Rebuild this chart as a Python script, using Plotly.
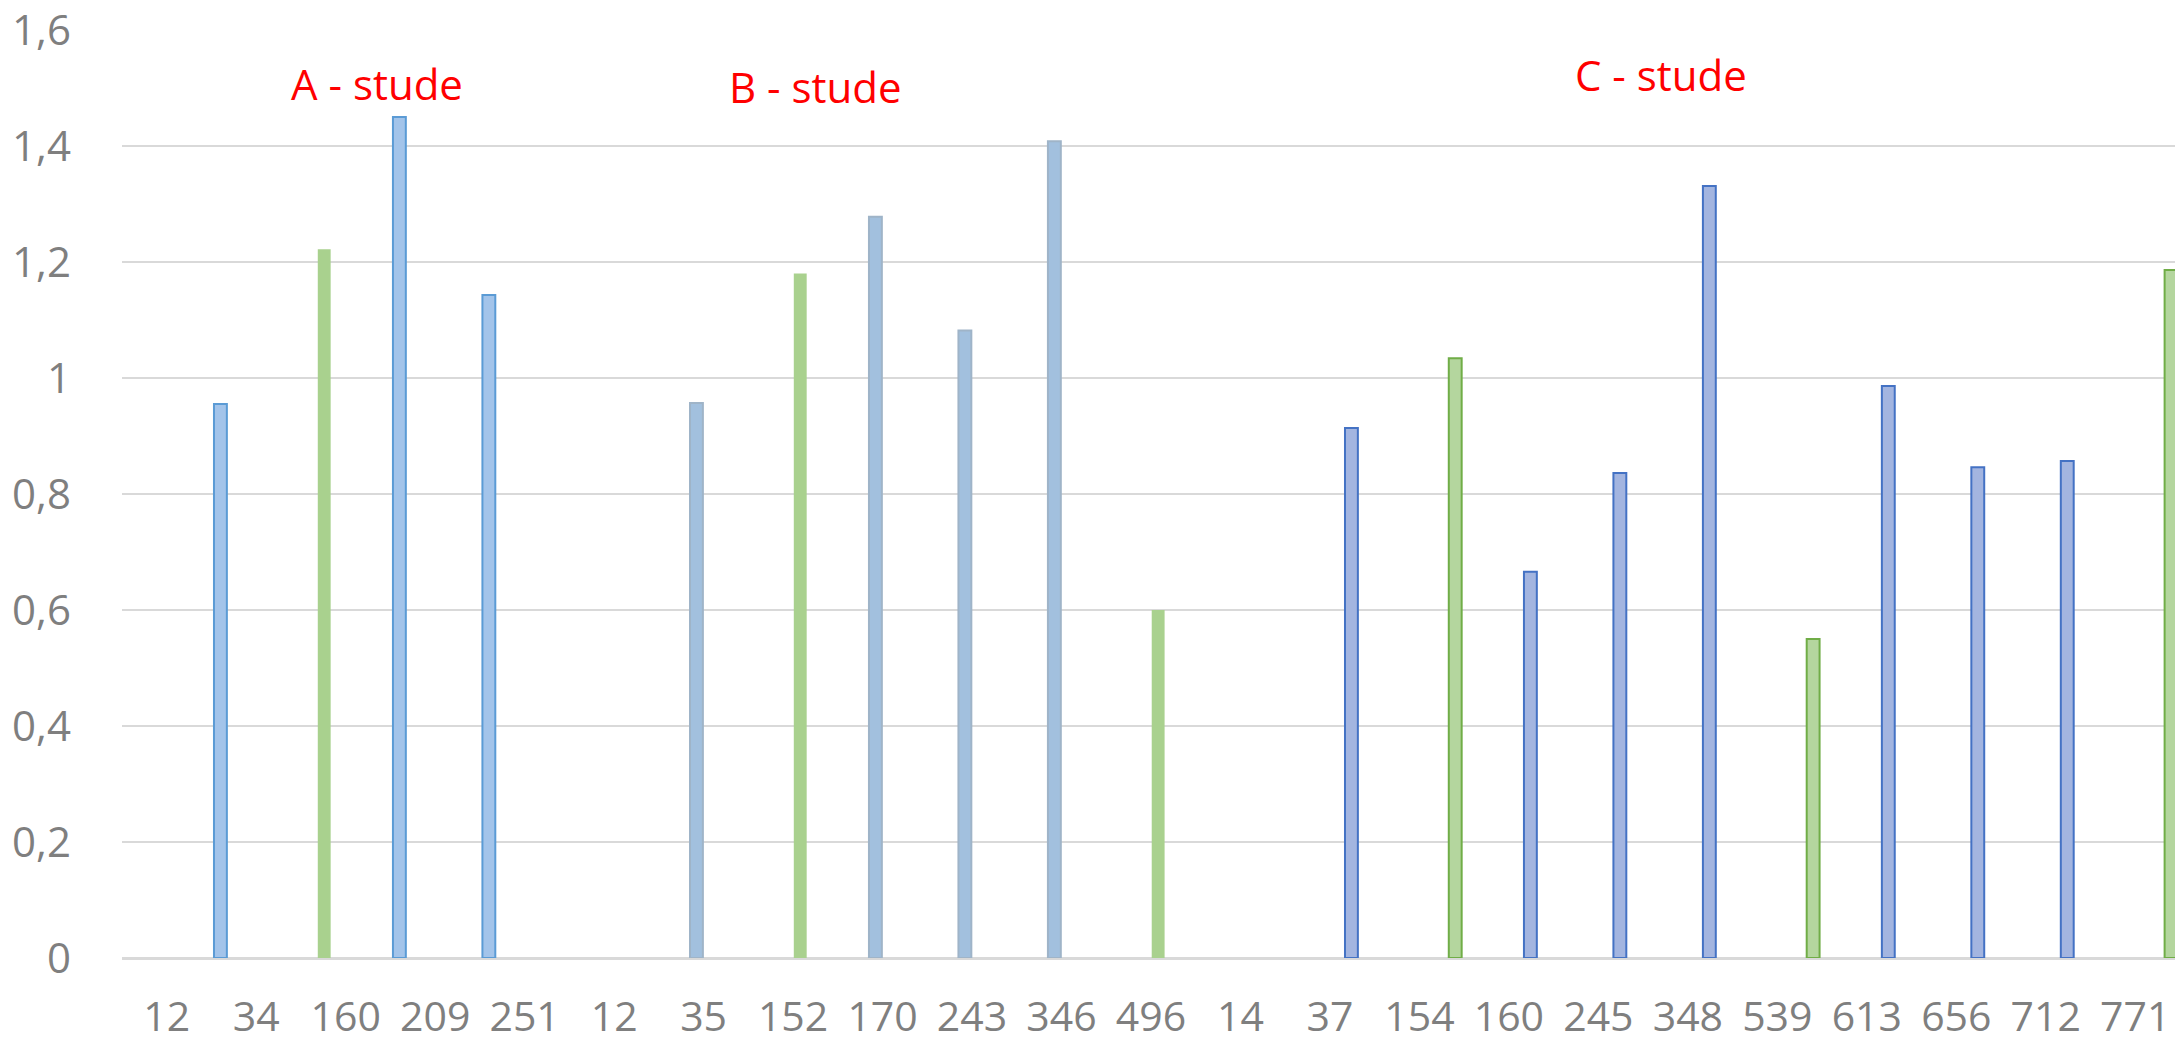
import plotly.graph_objects as go

# Category labels (x axis)
categories = ["12", "34", "160", "209", "251", "12", "35", "152", "170", "243", "346", "496",
              "14", "37", "154", "160", "245", "348", "539", "613", "656", "712", "771"]

N = None
# Six clustered series (values per category, None = no bar)
a_blue  = [N, 0.955, N, 1.450, 1.143, N, N, N, N, N, N, N, N, N, N, N, N, N, N, N, N, N, N]
a_green = [N, N, 1.222, N, N, N, N, N, N, N, N, N, N, N, N, N, N, N, N, N, N, N, N]
b_blue  = [N, N, N, N, N, N, 0.957, N, 1.278, 1.082, 1.408, N, N, N, N, N, N, N, N, N, N, N, N]
b_green = [N, N, N, N, N, N, N, 1.180, N, N, N, 0.600, N, N, N, N, N, N, N, N, N, N, N]
c_blue  = [N, N, N, N, N, N, N, N, N, N, N, N, N, 0.914, N, 0.666, 0.836, 1.331, N, 0.986, 0.846, 0.857, N]
c_green = [N, N, N, N, N, N, N, N, N, N, N, N, N, N, 1.034, N, N, N, 0.550, N, N, N, 1.186]

y_ticks = [0, 0.2, 0.4, 0.6, 0.8, 1.0, 1.2, 1.4, 1.6]
y_tick_text = ["0", "0,2", "0,4", "0,6", "0,8", "1", "1,2", "1,4", "1,6"]

group_labels = ["A - stude", "B - stude", "C - stude"]

xs = list(range(len(categories)))

series = [
    (a_blue,  "#a3c4ea", "#5b9bd5", 2),
    (a_green, "#a9d18e", "#a9d18e", 0),
    (b_blue,  "#a2c0de", "#9fb4c8", 2),
    (b_green, "#a9d18e", "#a9d18e", 0),
    (c_blue,  "#a3b5e0", "#4472c4", 2),
    (c_green, "#b4d69e", "#70ad47", 2),
]

fig = go.Figure()
for vals, fill, line, lw in series:
    fig.add_trace(go.Bar(x=xs, y=vals, marker=dict(color=fill, line=dict(color=line, width=lw)),
                         showlegend=False))

font_family = "Open Sans, Liberation Sans, sans-serif"

fig.update_layout(
    width=2175, height=1032,
    margin=dict(l=114, r=3, t=22, b=82, autoexpand=False),
    paper_bgcolor="white", plot_bgcolor="white",
    barmode="group", bargap=0.04, bargroupgap=0.1,
    font=dict(family=font_family, size=42, color="#7f7f7f"),
    xaxis=dict(range=[-0.5, 22.5], tickmode="array", tickvals=xs, ticktext=categories,
               showgrid=False, zeroline=False, showline=False, ticks="",
               tickfont=dict(size=41, color="#7f7f7f"), ticklabelstandoff=31,
               automargin=False, ticklabeloverflow="allow", fixedrange=True),
    yaxis=dict(range=[0, 1.6], tickmode="array", tickvals=y_ticks, ticktext=y_tick_text,
               showgrid=True, gridcolor="#d9d9d9", gridwidth=2,
               zeroline=True, zerolinecolor="#d9d9d9", zerolinewidth=3,
               showline=False, ticks="", tickfont=dict(size=42, color="#7f7f7f"),
               ticklabelstandoff=50, automargin=False, ticklabeloverflow="allow",
               fixedrange=True),
)

ann_x = [2.35, 7.25, 16.7]
ann_y = [1.507, 1.502, 1.524]
for label, ax_, ay_ in zip(group_labels, ann_x, ann_y):
    fig.add_annotation(x=ax_, y=ay_, text=label, showarrow=False,
                       font=dict(family=font_family, size=42, color="#ff0000"))

fig.write_html("out.html")
